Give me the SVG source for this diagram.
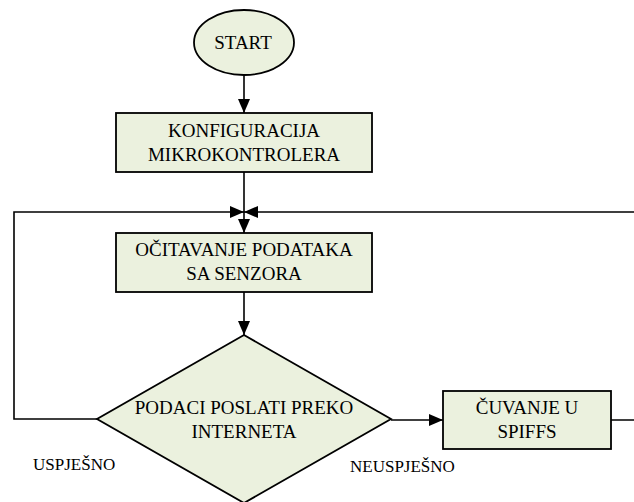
<svg xmlns="http://www.w3.org/2000/svg" width="634" height="502" viewBox="0 0 634 502">
<style>
.shape{fill:#EBF1DE;stroke:#000;stroke-width:1.8}
.t{font-size:19px;fill:#000;text-anchor:middle}
.lbl{font-size:17px;fill:#000}
.c{fill:none;stroke:#000;stroke-width:1.6}
</style>
<defs>
<marker id="ah" viewBox="0 0 14 12" refX="14" refY="6" markerWidth="14" markerHeight="12" markerUnits="userSpaceOnUse" orient="auto">
<path d="M0,0 L14,6 L0,12 Z" fill="#000"/>
</marker>
</defs>
<rect width="634" height="502" fill="#fff"/>
<g id="connectors">
<line class="c" x1="244" y1="75" x2="244" y2="113" marker-end="url(#ah)"/>
<line class="c" x1="244" y1="172" x2="244" y2="233" marker-end="url(#ah)"/>
<line class="c" x1="244" y1="292" x2="244" y2="335" marker-end="url(#ah)"/>
<polyline class="c" points="97,419 14,419 14,212 244,212" marker-end="url(#ah)"/>
<polyline class="c" points="611,420 640,420 640,212 244,212" marker-end="url(#ah)"/>
<line class="c" x1="391" y1="420" x2="443" y2="420" marker-end="url(#ah)"/>
</g>
<g font-family="'Liberation Serif', 'DejaVu Serif', serif">
<g id="start">
<ellipse class="shape" cx="244" cy="42.5" rx="50" ry="32.5"/>
<text class="t" x="243" y="49">START</text>
</g>
<g id="konfiguracija">
<rect class="shape" x="116" y="113" width="256" height="59"/>
<text class="t" x="244" y="137">KONFIGURACIJA</text>
<text class="t" x="244" y="161">MIKROKONTROLERA</text>
</g>
<g id="ocitavanje">
<rect class="shape" x="116" y="233" width="256" height="59"/>
<text class="t" x="244" y="256">OČITAVANJE PODATAKA</text>
<text class="t" x="244" y="280">SA SENZORA</text>
</g>
<g id="odluka">
<polygon class="shape" points="244,335 391,419 244,503 97,419"/>
<text class="t" x="244" y="414">PODACI POSLATI PREKO</text>
<text class="t" x="244" y="438">INTERNETA</text>
</g>
<g id="cuvanje">
<rect class="shape" x="443" y="391" width="168" height="58"/>
<text class="t" x="527" y="414">ČUVANJE U</text>
<text class="t" x="527" y="438">SPIFFS</text>
</g>
<g id="labels">
<text class="lbl" x="33" y="470">USPJEŠNO</text>
<text class="lbl" x="350" y="472">NEUSPJEŠNO</text>
</g>
</g>
</svg>
